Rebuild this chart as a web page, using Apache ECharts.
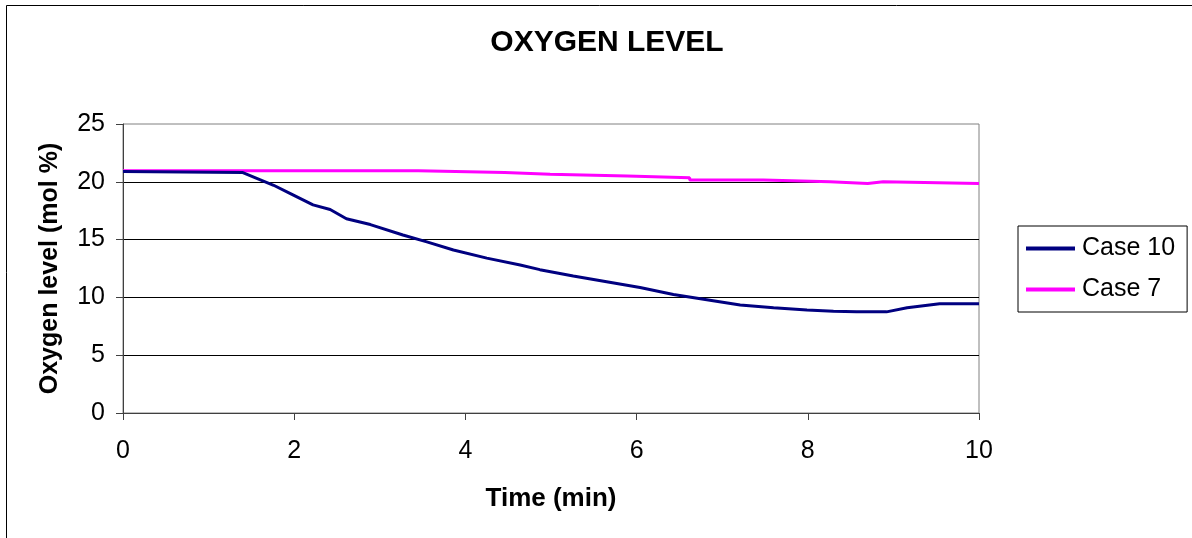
<!DOCTYPE html>
<html>
<head>
<meta charset="utf-8">
<script src="https://cdn.jsdelivr.net/npm/echarts@6/dist/echarts.min.js"></script>
<style>html,body{margin:0;padding:0;background:#fff;}#c{width:1192px;height:538px;}</style>
</head>
<body>
<div id="c"></div>
<script>
const titleText = 'OXYGEN LEVEL';
const xName = 'Time (min)';
const yName = 'Oxygen level (mol %)';
const seriesNames = ['Case 10', 'Case 7'];

const case10Time  = [0, 1.40, 1.76, 1.95, 2.22, 2.42, 2.61, 2.89, 3.27, 3.55, 3.86, 4.25, 4.64, 4.87, 5.26, 5.65, 6.04, 6.43, 6.82, 7.21, 7.60, 7.99, 8.30, 8.57, 8.92, 9.16, 9.54, 10];
const case10Value = [20.9, 20.8, 19.7, 19.0, 18.0, 17.6, 16.8, 16.3, 15.4, 14.8, 14.1, 13.4, 12.8, 12.4, 11.85, 11.35, 10.85, 10.25, 9.8, 9.35, 9.1, 8.9, 8.8, 8.75, 8.75, 9.1, 9.45, 9.45];

const case7Time  = [0, 3.45, 3.45, 4.46, 4.46, 4.99, 4.99, 5.89, 5.89, 6.62, 6.62, 7.48, 7.48, 8.26, 8.26, 8.70, 8.70, 8.88, 8.88, 10];
const case7Value = [20.95, 20.95, 20.8, 20.8, 20.65, 20.65, 20.5, 20.5, 20.35, 20.35, 20.15, 20.15, 20.0, 20.0, 19.85, 19.85, 20.0, 20.0, 19.85, 19.85];

const xTicks = [0, 2, 4, 6, 8, 10];
const yTicks = [0, 5, 10, 15, 20, 25];

const FONT = '"Liberation Sans", Arial, sans-serif';
const chart = echarts.init(document.getElementById('c'), null, {renderer: 'canvas'});
const zip = (a, b) => a.map((t, i) => [t, b[i]]);

chart.setOption({
  animation: false,
  backgroundColor: '#fff',
  textStyle: {fontFamily: FONT},
  graphic: [{
    type: 'rect', z: -1, silent: true,
    shape: {x: 6.5, y: 5.5, width: 1200, height: 600},
    style: {fill: 'none', stroke: '#000', lineWidth: 1}
  }],
  title: {
    text: titleText, left: 602, top: 23, textAlign: 'center',
    textStyle: {fontFamily: FONT, fontSize: 30, fontWeight: 'bold', color: '#000'}
  },
  legend: {
    orient: 'vertical', left: 1018, top: 226,
    data: seriesNames,
    itemWidth: 49, itemHeight: 4, itemGap: 16,
    icon: 'rect',
    padding: [10, 12, 10, 8],
    borderColor: '#000', borderWidth: 1,
    backgroundColor: '#fff',
    textStyle: {fontFamily: FONT, fontSize: 25, color: '#000', padding: [0, 0, 0, 2]}
  },
  grid: {
    left: 123, right: 213, top: 124, bottom: 125,
    show: true, borderColor: '#808080', borderWidth: 1, backgroundColor: '#fff'
  },
  xAxis: {
    type: 'value', min: xTicks[0], max: xTicks[xTicks.length - 1], interval: 2,
    name: xName, nameLocation: 'middle', nameGap: 73,
    nameTextStyle: {fontFamily: FONT, fontSize: 26, fontWeight: 'bold', color: '#000'},
    axisLine: {show: true, lineStyle: {color: '#404040', width: 1}},
    axisTick: {show: true, inside: false, length: 7, lineStyle: {color: '#404040'}},
    axisLabel: {fontFamily: FONT, fontSize: 25, color: '#000', margin: 26},
    splitLine: {show: false}
  },
  yAxis: {
    type: 'value', min: yTicks[0], max: yTicks[yTicks.length - 1], interval: 5,
    name: yName, nameLocation: 'middle', nameGap: 60, nameRotate: 90,
    nameTextStyle: {fontFamily: FONT, fontSize: 25, fontWeight: 'bold', color: '#000'},
    axisLine: {show: true, lineStyle: {color: '#404040', width: 1}},
    axisTick: {show: true, inside: false, length: 7, lineStyle: {color: '#404040'}},
    axisLabel: {fontFamily: FONT, fontSize: 25, color: '#000', margin: 18},
    splitLine: {show: true, showMaxLine: false, showMinLine: false, lineStyle: {color: '#000', width: 1}}
  },
  series: [
    {
      name: seriesNames[0], type: 'line', showSymbol: false, symbol: 'none',
      data: zip(case10Time, case10Value),
      itemStyle: {color: '#000080'},
      lineStyle: {color: '#000080', width: 3}, z: 3
    },
    {
      name: seriesNames[1], type: 'line', showSymbol: false, symbol: 'none',
      data: zip(case7Time, case7Value),
      itemStyle: {color: '#FF00FF'},
      lineStyle: {color: '#FF00FF', width: 3}, z: 2
    }
  ]
});
</script>
</body>
</html>
